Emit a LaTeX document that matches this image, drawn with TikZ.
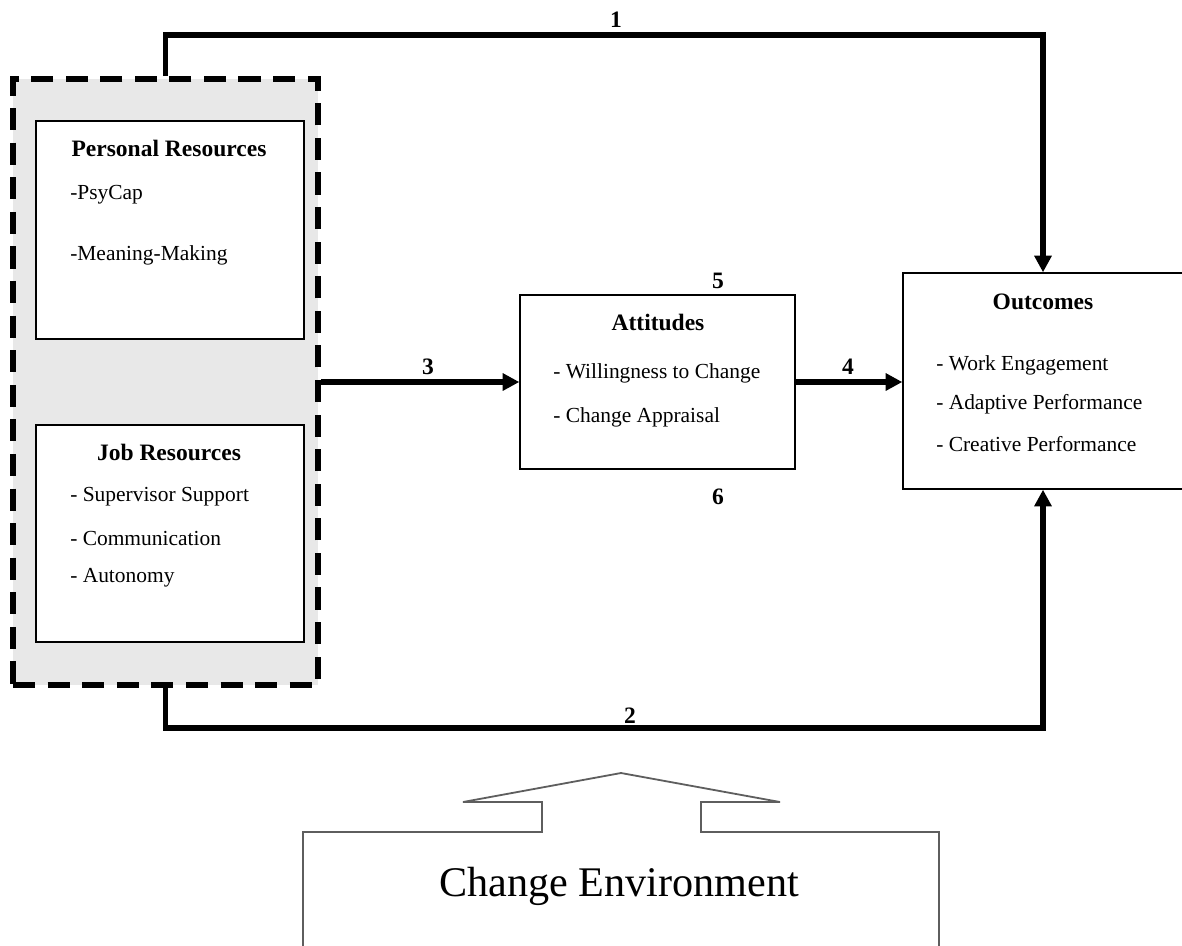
\documentclass[tikz,border=0pt]{standalone}
\usepackage{fontspec}
\setmainfont{Liberation Serif}
\usepackage{tikz}
\usetikzlibrary{arrows.meta, positioning, fit}
\definecolor{resgrey}{HTML}{E8E8E8}
\definecolor{envgrey}{HTML}{5E5E5E}
\tikzset{
  box/.style={draw=black, line width=1pt, fill=white, inner sep=0pt},
  ttl/.style={font=\fontsize{17}{20}\selectfont\bfseries, inner sep=0pt},
  item/.style={font=\fontsize{15.5}{18}\selectfont, anchor=west, inner sep=0pt},
  num/.style={font=\fontsize{17}{20}\selectfont\bfseries, inner sep=0pt},
  link/.style={line width=3.8pt, -{Triangle[length=12pt, width=12pt]}}
}

\begin{document}
\begin{tikzpicture}[x=0.0254cm, y=-0.0254cm]
\useasboundingbox (0,0) rectangle (1182,945);
\fill[white] (0,0) rectangle (1182,945);
% resource group
\node[fill=resgrey, draw=black, line width=4.2pt, dash pattern=on 16pt off 9pt,
  inner sep=0pt, fit={(13,79) (318,685)}] (res) {};
\node[box, fit={(36,121) (304,339)}] (pers) {};
\node[ttl] (persT) at (169,148) {Personal Resources};
\node[item] (pers1) at (70,195) {-PsyCap};
\node[item] (pers2) at (70,255) {-Meaning-Making};
\node[box, fit={(36,425) (304,642)}] (job) {};
\node[ttl] (jobT) at (169,452) {Job Resources};
\node[item] (job1) at (70,497) {- Supervisor Support};
\node[item] (job2) at (70,538) {- Communication};
\node[item] (job3) at (70,578) {- Autonomy};
% attitudes
\node[box, fit={(520,295) (795,469)}] (att) {};
\node[ttl] (attT) at (658,322) {Attitudes};
\node[item] (att1) at (553,373) {- Willingness to Change};
\node[item] (att2) at (553,417) {- Change Appraisal};
% outcomes
\node[box, fit={(903,273) (1183,489)}] (out) {};
\node[ttl] (outT) at (1043,302) {Outcomes};
\node[item] (out1) at (936,365) {- Work Engagement};
\node[item] (out2) at (936,404) {- Adaptive Performance};
\node[item] (out3) at (936,444) {- Creative Performance};
% paths
\draw[link] (res.north) -- ++(0,-41) -| (out.north);
\draw[link] (res.south) -- ++(0,40) -| (out.south);
\draw[link] (res.east |- att.west) -- (att.west);
\draw[link] (att.east) -- (att.east -| out.west);
\node[num] (n1) at (616,20) {1};
\node[num] (n2) at (630,716) {2};
\node[num] (n3) at (428,367) {3};
\node[num] (n4) at (848,367) {4};
\node[num] (n5) at (718,281) {5};
\node[num] (n6) at (718,497) {6};
% change environment
\draw[envgrey, line width=1.3pt] (303,960) -- (303,832) -- (542,832) -- (542,802)
  -- (463,802) -- (621,773) -- (780,802) -- (701,802) -- (701,832) -- (939,832) -- (939,960);
\node[font=\fontsize{30.5}{36}\selectfont, anchor=base] (env) at (619,896) {Change Environment};
\end{tikzpicture}
\end{document}
